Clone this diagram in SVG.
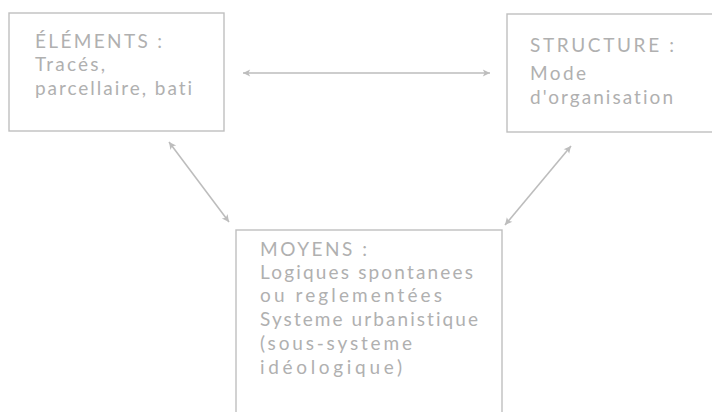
<svg xmlns="http://www.w3.org/2000/svg" width="712" height="412" viewBox="0 0 712 412">
<style>
.box{fill:#fff;stroke:#bfbfbf;stroke-width:1.4}
.t{font-family:Lato,"Open Sans",sans-serif;font-size:19px;fill:#b0b0b0;font-variant-ligatures:none}
.c{stroke:#bdbdbd;stroke-width:1.6;fill:none;marker-start:url(#a);marker-end:url(#a)}
</style>
<defs>
<marker id="a" viewBox="0 0 10 10" refX="9" refY="5" markerWidth="9" markerHeight="9" markerUnits="userSpaceOnUse" orient="auto-start-reverse">
<path d="M1,1 L9,5 L1,9 L3,5 Z" fill="#bdbdbd"/>
</marker>
</defs>
<rect width="712" height="412" fill="#fff"/>
<g id="connectors">
<line class="c" x1="243" y1="73" x2="490" y2="73"/>
<line class="c" x1="169" y1="142" x2="229" y2="222"/>
<line class="c" x1="571" y1="146" x2="505" y2="225"/>
</g>
<g id="elements">
<rect class="box" x="9" y="13" width="215" height="118"/>
<text class="t" x="35" y="48" textLength="127">ÉLÉMENTS :</text>
<text class="t" x="35" y="71" textLength="70">Tracés,</text>
<text class="t" x="35" y="95" textLength="157">parcellaire, bati</text>
</g>
<g id="structure">
<rect class="box" x="507" y="14" width="220" height="118"/>
<text class="t" x="530" y="52" textLength="144">STRUCTURE :</text>
<text class="t" x="530" y="80" textLength="56">Mode</text>
<text class="t" x="530" y="104" textLength="143">d'organisation</text>
</g>
<g id="moyens">
<rect class="box" x="236" y="230" width="266" height="200"/>
<text class="t" x="260" y="256" textLength="107">MOYENS :</text>
<text class="t" x="260" y="279" textLength="213">Logiques spontanees</text>
<text class="t" x="260" y="302" textLength="182">ou reglementées</text>
<text class="t" x="260" y="326" textLength="218">Systeme urbanistique</text>
<text class="t" x="260" y="350" textLength="152">(sous-systeme</text>
<text class="t" x="260" y="374" textLength="142">idéologique)</text>
</g>
</svg>
